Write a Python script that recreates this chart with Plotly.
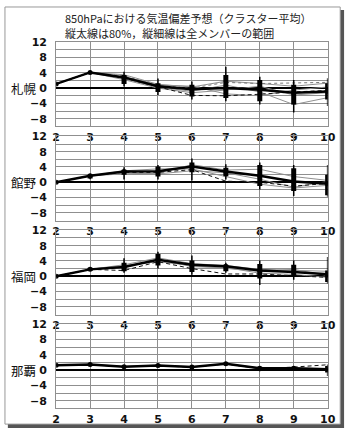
import plotly.graph_objects as go

W, H = 354, 431

days = [2, 3, 4, 5, 6, 7, 8, 9, 10]
day_labels = ["2", "3", "4", "5", "6", "7", "8", "9", "10"]
y_ticks = [12, 8, 4, 0, -4, -8]
y_tick_labels = ["12", "8", "4", "0", "−4", "−8"]

title1 = "850hPaにおける気温偏差予想（クラスター平均）"
title2 = "縦太線は80%，縦細線は全メンバーの範囲"

stations = ["札幌", "館野", "福岡", "那覇"]

# ---- 札幌 ----
sap_mean = [1.1, 4.1, 2.8, 0.5, -0.3, 0.0, -0.4, -1.2, -0.9]
sap_p80_hi = [None, None, 3.4, 1.3, 0.9, 3.4, 2.1, 0.9, 1.3]
sap_p80_lo = [None, None, 1.1, -1.0, -2.2, -2.6, -3.4, -4.3, -3.0]
sap_full_hi = [None, None, 4.3, 2.5, 1.7, 5.6, 3.0, 2.1, 2.6]
sap_full_lo = [None, None, 0.4, -1.8, -3.0, -3.4, -4.3, -6.4, -4.7]
sap_m1 = [1.1, 4.1, 3.5, 1.0, 0.3, 1.8, 1.2, 0.5, 1.3]
sap_m2 = [1.1, 4.1, 2.5, 0.2, -0.8, 0.8, -1.0, -4.3, -2.5]
sap_m3 = [1.1, 4.1, 3.0, 0.8, 0.5, -1.5, -2.0, -0.5, 0.3]
sap_m4 = [1.1, 4.1, 2.2, 0.0, -1.2, -0.5, 0.5, -1.8, -1.2]
sap_dash = [1.1, 4.1, 2.6, 0.3, -1.9, -2.0, -1.6, -1.0, -0.6]
sap_dot = [1.1, 4.1, 3.2, 0.7, 0.0, 1.5, 1.2, 1.4, 1.5]

# ---- 館野 ----
tat_mean = [0.0, 1.7, 2.8, 2.9, 4.1, 2.8, 1.7, 0.2, -0.4]
tat_p80_hi = [None, 2.0, 3.3, 4.1, 5.2, 3.8, 4.5, 3.7, 2.0]
tat_p80_lo = [None, 1.0, 2.0, 1.5, 2.6, 1.6, -1.0, -2.3, -3.4]
tat_full_hi = [None, 2.0, 3.9, 4.5, 6.2, 4.7, 5.2, 4.5, 4.5]
tat_full_lo = [None, 0.8, 0.7, 0.7, 0.5, 0.7, -1.9, -3.6, -3.8]
tat_m1 = [0.0, 1.7, 2.2, 2.4, 4.6, 3.2, 3.4, 1.5, 0.5]
tat_m2 = [0.0, 1.7, 3.0, 3.5, 3.5, 1.5, -0.5, -1.5, -0.8]
tat_m3 = [0.0, 1.7, 2.5, 2.2, 3.0, 2.5, 0.8, -1.3, 0.2]
tat_dash = [0.0, 1.7, 2.6, 2.6, 3.3, 0.3, 0.0, -1.0, -0.3]

# ---- 福岡 ----
fuk_mean = [0.0, 1.8, 2.4, 4.3, 3.0, 2.6, 1.5, 1.1, 0.5]
fuk_p80_hi = [None, 2.2, 3.5, 5.8, 4.1, 3.0, 3.2, 3.0, 1.5]
fuk_p80_lo = [None, 1.4, 1.3, 2.8, 1.1, 1.3, -0.6, -0.2, -1.5]
fuk_full_hi = [None, 2.2, 4.7, 6.4, 5.4, 3.5, 4.1, 4.1, 5.0]
fuk_full_lo = [None, 1.4, 0.9, 2.0, 0.4, 0.9, -2.3, -0.9, -1.9]
fuk_m1 = [0.0, 1.8, 3.0, 4.8, 3.3, 2.8, 1.8, 1.6, 1.3]
fuk_m2 = [0.0, 1.8, 2.2, 4.5, 2.5, 2.3, 0.8, 0.5, -0.3]
fuk_m3 = [0.0, 1.8, 2.8, 3.8, 2.8, 2.0, 1.3, 1.8, 0.2]
fuk_dash = [0.0, 1.8, 1.5, 3.8, 2.0, 0.6, 0.6, 0.2, -0.3]

# ---- 那覇 ----
nah_mean = [1.3, 1.5, 0.9, 1.2, 0.85, 1.7, 0.5, 0.5, 0.25]
nah_p80_hi = [None, 1.7, 1.1, 1.4, 1.1, 1.9, 0.9, 0.9, 1.1]
nah_p80_lo = [None, 1.2, 0.7, 0.9, 0.6, 1.4, 0.0, 0.1, -0.6]
nah_full_hi = [None, 1.8, 1.2, 1.6, 1.2, 2.0, 1.1, 1.1, 1.5]
nah_full_lo = [None, 1.1, 0.6, 0.8, 0.5, 1.3, -0.3, -0.1, -1.5]
nah_m1 = [1.3, 1.5, 1.0, 1.3, 0.9, 1.6, 0.6, 0.6, 0.3]
nah_dash = [1.3, 1.4, 0.9, 1.1, 0.8, 1.6, 0.4, 0.8, 1.4]

panels = [
    dict(mean=sap_mean, p80=(sap_p80_lo, sap_p80_hi), full=(sap_full_lo, sap_full_hi),
         members=[sap_m1, sap_m2, sap_m3, sap_m4], dash=sap_dash, dot=sap_dot),
    dict(mean=tat_mean, p80=(tat_p80_lo, tat_p80_hi), full=(tat_full_lo, tat_full_hi),
         members=[tat_m1, tat_m2, tat_m3], dash=tat_dash, dot=None),
    dict(mean=fuk_mean, p80=(fuk_p80_lo, fuk_p80_hi), full=(fuk_full_lo, fuk_full_hi),
         members=[fuk_m1, fuk_m2, fuk_m3], dash=fuk_dash, dot=None),
    dict(mean=nah_mean, p80=(nah_p80_lo, nah_p80_hi), full=(nah_full_lo, nah_full_hi),
         members=[nah_m1], dash=nah_dash, dot=None),
]

# ---- layout geometry (pixels) ----
PX_LEFT, PX_RIGHT = 54, 335
PANEL_TOPS = [36.7, 132.2, 227.5, 322.7]
PANEL_H = 85.4
Y_MIN, Y_MAX = -10, 12

def px_x(x):
    return x / W

def px_y(y):
    return 1 - y / H

def segs(lo, hi):
    xs, ys = [], []
    for d, a, b in zip(days, lo, hi):
        if a is None or b is None:
            continue
        xs += [d, d, None]
        ys += [a, b, None]
    return xs, ys

fig = go.Figure()

tick_font = dict(family="DejaVu Sans", size=11, color="#111", weight="bold")
grid_col = "#8f8f8f"

for i, p in enumerate(panels):
    n = "" if i == 0 else str(i + 1)
    xa, ya = "x" + n, "y" + n
    for m in p["members"]:
        fig.add_trace(go.Scatter(x=days, y=m, mode="lines", xaxis=xa, yaxis=ya,
                                 line=dict(color="#909090", width=1), hoverinfo="skip"))
    if p["dot"] is not None:
        fig.add_trace(go.Scatter(x=days, y=p["dot"], mode="lines", xaxis=xa, yaxis=ya,
                                 line=dict(color="#777", width=1, dash="dot"), hoverinfo="skip"))
    fig.add_trace(go.Scatter(x=days, y=p["dash"], mode="lines", xaxis=xa, yaxis=ya,
                             line=dict(color="#111", width=1, dash="4px,3px"), hoverinfo="skip"))
    fx, fy = segs(*p["full"])
    fig.add_trace(go.Scatter(x=fx, y=fy, mode="lines", xaxis=xa, yaxis=ya,
                             line=dict(color="#000", width=1.5), hoverinfo="skip"))
    bx, by = segs(*p["p80"])
    fig.add_trace(go.Scatter(x=bx, y=by, mode="lines", xaxis=xa, yaxis=ya,
                             line=dict(color="#000", width=5), hoverinfo="skip"))
    fig.add_trace(go.Scatter(x=days, y=p["mean"], mode="lines+markers", xaxis=xa, yaxis=ya,
                             line=dict(color="#000", width=2.5),
                             marker=dict(color="#000", size=5), hoverinfo="skip"))

    top = PANEL_TOPS[i]
    ydom = [px_y(top + PANEL_H), px_y(top)]
    xdom = [px_x(PX_LEFT), px_x(PX_RIGHT)]
    fig.layout["xaxis" + n] = dict(
        domain=xdom, range=[2, 10], anchor=ya, tickvals=days, ticktext=day_labels,
        showgrid=True, gridcolor=grid_col, gridwidth=1, ticks="", tickfont=tick_font,
        showline=True, linecolor=grid_col, mirror=True, zeroline=False, fixedrange=True,
    )
    fig.layout["yaxis" + n] = dict(
        domain=ydom, range=[Y_MIN, Y_MAX], anchor=xa, tickvals=y_ticks, ticktext=y_tick_labels,
        showgrid=True, gridcolor=grid_col, gridwidth=1,
        ticks="outside", ticklen=6, tickcolor="rgba(0,0,0,0)", tickfont=tick_font,
        minor=dict(tick0=0, dtick=2, showgrid=True, gridcolor=grid_col, gridwidth=1),
        showline=True, linecolor=grid_col, mirror=True,
        zeroline=True, zerolinecolor="#000", zerolinewidth=2, fixedrange=True,
    )
    fig.add_annotation(text=stations[i], x=px_x(6), y=0, xref="paper", yref=ya,
                       xanchor="left", yanchor="middle", showarrow=False, borderpad=0,
                       font=dict(family="Noto Sans CJK JP", size=12.5, color="#111"))

# frame with shadow
fig.add_shape(type="rect", xref="paper", yref="paper",
              x0=px_x(4), x1=px_x(352), y0=px_y(428), y1=px_y(4),
              fillcolor="#555", line=dict(width=0), layer="below")
fig.add_shape(type="rect", xref="paper", yref="paper",
              x0=px_x(1), x1=px_x(348), y0=px_y(424), y1=px_y(1),
              fillcolor="white", line=dict(color="#999", width=1), layer="below")

fig.add_annotation(text=title1, x=px_x(62), y=px_y(12.5), xref="paper", yref="paper",
                   xanchor="left", yanchor="middle", showarrow=False, borderpad=0,
                   font=dict(family="Noto Sans CJK JP", size=11, color="#222"))
fig.add_annotation(text=title2, x=px_x(62), y=px_y(27.5), xref="paper", yref="paper",
                   xanchor="left", yanchor="middle", showarrow=False, borderpad=0,
                   font=dict(family="Noto Sans CJK JP", size=11, color="#222"))

fig.update_layout(width=W, height=H, margin=dict(l=0, r=0, t=0, b=0),
                  paper_bgcolor="white", plot_bgcolor="rgba(0,0,0,0)", showlegend=False)

fig.write_html("out.html")
